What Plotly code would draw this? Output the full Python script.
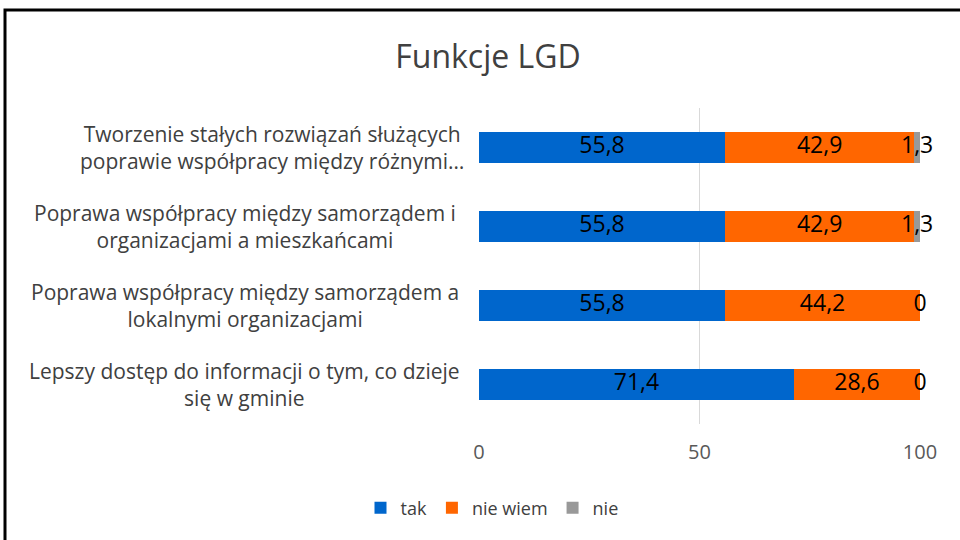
import plotly.graph_objects as go

categories = [
    "Tworzenie stałych rozwiązań służących<br>poprawie współpracy między różnymi…",
    "Poprawa współpracy między samorządem i<br>organizacjami a mieszkańcami",
    "Poprawa współpracy między samorządem a<br>lokalnymi organizacjami",
    "Lepszy dostęp do informacji o tym, co dzieje<br>się w gminie",
]
series_names = ["tak", "nie wiem", "nie"]
tak = [55.8, 55.8, 55.8, 71.4]
nie_wiem = [42.9, 42.9, 44.2, 28.6]
nie = [1.3, 1.3, 0, 0]
x_ticks = [0, 50, 100]

colors = ["#0066CC", "#FF6600", "#999999"]
FONT = "'Open Sans', sans-serif"

# horizontal centre (in pixels) of each category label block
label_centres_px = [272, 245, 245, 245]


def fmt(v):
    s = ("%g" % v)
    return s.replace(".", ",")


fig = go.Figure()
all_series = [tak, nie_wiem, nie]
for name, vals, col in zip(series_names, all_series, colors):
    fig.add_trace(go.Bar(
        y=categories, x=vals, name=name, orientation="h",
        marker=dict(color=col, line=dict(width=0)),
        hoverinfo="skip",
    ))

# data labels at the middle of each stacked segment
base = [0.0] * len(categories)
for vals in all_series:
    mids = [b + v / 2 for b, v in zip(base, vals)]
    fig.add_trace(go.Scatter(
        y=categories, x=mids, mode="text",
        text=[fmt(v) for v in vals],
        textfont=dict(family=FONT, size=23, color="#000000"),
        textposition="middle center",
        showlegend=False, hoverinfo="skip", cliponaxis=False,
    ))
    base = [b + v for b, v in zip(base, vals)]

# category labels (centered multi-line text)
for c, px in zip(categories, label_centres_px):
    fig.add_annotation(
        x=(px - 479) / 441, xref="paper", y=c, yref="y",
        text=c, showarrow=False, align="center",
        xanchor="center", yanchor="middle",
        font=dict(family=FONT, size=21, color="#404040"),
    )

# chart frame
fig.add_shape(
    type="rect", xref="paper", yref="paper",
    x0=(5 - 479) / 441, x1=(964 - 479) / 441,
    y0=(424 - 545) / 316, y1=(424 - 10) / 316,
    line=dict(color="#000000", width=3), fillcolor="rgba(0,0,0,0)",
    layer="below",
)

fig.update_layout(
    barmode="stack",
    bargap=0.6,
    width=960, height=540,
    margin=dict(l=479, r=40, t=108, b=116),
    paper_bgcolor="white", plot_bgcolor="white",
    title=dict(
        text="Funkcje LGD", x=488 / 960, xanchor="center",
        y=1 - 57 / 540, yanchor="middle", yref="container", xref="container",
        font=dict(family=FONT, size=32, color="#404040"),
    ),
    legend=dict(
        orientation="h", xref="container", yref="container",
        x=492 / 960, xanchor="center", y=1 - 508 / 540, yanchor="middle",
        font=dict(family=FONT, size=18, color="#404040"),
        itemwidth=30, traceorder="normal",
    ),
    xaxis=dict(
        range=[0, 100], tickvals=x_ticks, ticktext=[str(t) for t in x_ticks],
        showgrid=True, gridcolor="#D9D9D9", gridwidth=1,
        zeroline=False, showline=False,
        tickfont=dict(family=FONT, size=20, color="#595959"),
        ticks="", ticklabelstandoff=14, fixedrange=True,
    ),
    yaxis=dict(
        autorange="reversed", showticklabels=False, showgrid=False,
        zeroline=False, showline=False, ticks="",
    ),
    showlegend=True,
)

fig.write_html(
    "out.html",
    config={"displayModeBar": False},
    post_script="document.body.style.margin='0';document.body.style.padding='0';",
)
